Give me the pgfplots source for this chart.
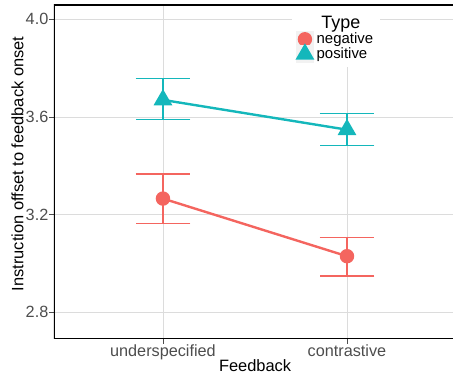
\documentclass[border=0pt]{standalone}
\usepackage{pgfplots}
\pgfplotsset{compat=1.18}
\usepackage{fontspec}
\setmainfont{Liberation Sans}
\definecolor{cneg}{HTML}{F4655F}
\definecolor{cpos}{HTML}{14B7BB}
\definecolor{tickgrey}{HTML}{4D4D4D}
\definecolor{gridgrey}{HTML}{DCDCDC}
\begin{document}
\begin{tikzpicture}
\useasboundingbox (-54bp,-37bp) rectangle (399bp,339bp);
\begin{axis}[
  at={(0,0)}, anchor=south west, scale only axis,
  width=399bp, height=334bp,
  xmin=-0.592, xmax=1.576, ymin=2.691, ymax=4.0586,
  xtick={0,1}, xticklabels={underspecified,contrastive},
  ytick={2.8,3.2,3.6,4.0},
  /pgf/number format/.cd, fixed, fixed zerofill, precision=1, assume math mode=true, /pgfplots/.cd,
  grid=major, grid style={color=gridgrey, line width=0.8bp},
  axis line style={draw=none},
  tick pos=left, tick align=outside, major tick length=4.5bp,
  tick style={color=tickgrey, line width=0.8bp},
  ticklabel style={font=\fontsize{16.3}{18}\selectfont, color=tickgrey},
  yticklabel style={inner sep=1bp},
  xticklabel style={inner sep=1.5bp},
  xlabel={Feedback}, ylabel={Instruction offset to feedback onset},
  every axis x label/.style={at={(rel axis cs:0.504,0)}, anchor=base, yshift=-32bp, font=\fontsize{16.5}{18}\selectfont},
  every axis y label/.style={at={(rel axis cs:0,0.524)}, anchor=center, rotate=90, yshift=36.5bp, font=\fontsize{16.5}{18}\selectfont},
  legend style={at={(rel axis cs:0.6066,0.924)}, anchor=north west, draw=none, fill=none,
    font=\fontsize{15}{17}\selectfont, inner sep=0pt, row sep=-2.5bp,
    nodes={inner sep=1bp}, /tikz/every odd column/.append style={column sep=2bp}},
  legend cell align=left,
  legend image code/.code={\fill[gray!10] (-7.5bp,-7.5bp) rectangle (7.5bp,7.5bp);
    \draw[#1] plot coordinates {(0bp,0bp)};},
]
\fill[white] (rel axis cs:0.5965,0.997) rectangle (rel axis cs:0.817,0.815);
% error bars
\addplot[forget plot, cneg, line width=1.2bp, mark=none, draw=none,
  error bars/.cd, y dir=both, y explicit, error mark=|,
  error mark options={mark size=27.3bp, line width=1.2bp, cneg},
  error bar style={line width=1.2bp, cneg}]
  coordinates {(0,3.266) += (0,0.101) -= (0,0.102)
               (1,3.030) += (0,0.078) -= (0,0.081)};
\addplot[forget plot, cpos, line width=1.2bp, mark=none, draw=none,
  error bars/.cd, y dir=both, y explicit, error mark=|,
  error mark options={mark size=27.3bp, line width=1.2bp, cpos},
  error bar style={line width=1.2bp, cpos}]
  coordinates {(0,3.670) += (0,0.087) -= (0,0.080)
               (1,3.548) += (0,0.065) -= (0,0.064)};
% lines and points
\addplot[cneg, line width=2.4bp, mark=*, mark size=6bp, mark options={solid, fill=cneg, draw=none}]
  coordinates {(0,3.266) (1,3.030)};
\addlegendentry{negative}
\addplot[cpos, line width=2.4bp, mark=triangle*, mark size=8.5bp, mark options={solid, fill=cpos, draw=none}]
  coordinates {(0,3.670) (1,3.548)};
\addlegendentry{positive}
\node[anchor=base, font=\fontsize{18}{20}\selectfont] at (rel axis cs:0.719,0.9296) {Type};
\draw[black, line width=1.3bp] (rel axis cs:1.01,1) -- (rel axis cs:0,1) -- (rel axis cs:0,0) -- (rel axis cs:1.01,0);
\end{axis}
\end{tikzpicture}
\end{document}
